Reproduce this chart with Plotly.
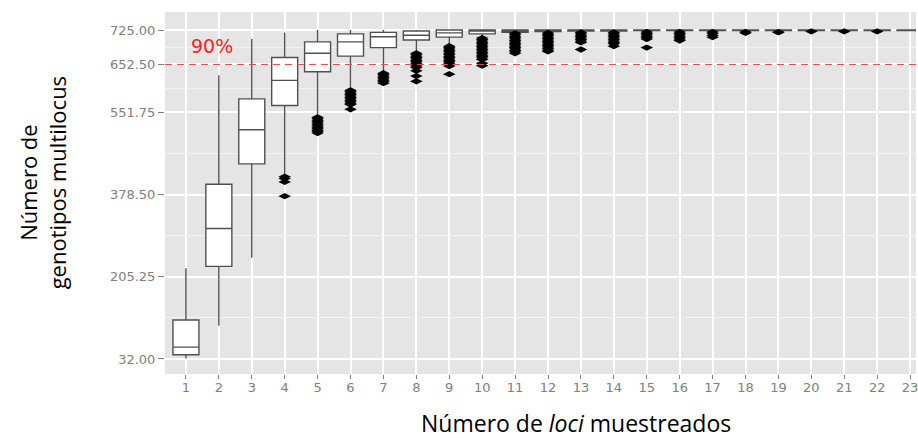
import plotly.graph_objects as go

cats = list(range(1, 24))
q1 = [41, 227, 443, 566, 637, 670, 688, 704, 710, 717, 720, 722, 723, 723, 724, 724, 724, 724, 724, 724, 724, 724, 724]
med = [57, 307, 515, 619, 676, 700, 711, 714, 719, 723, 724, 725, 725, 725, 725, 725, 725, 725, 725, 725, 725, 725, 725]
q3 = [114, 400, 580, 667, 700, 717, 720, 723, 725, 725, 725, 725, 725, 725, 725, 725, 725, 725, 725, 725, 725, 725, 725]
lo = [33, 102, 245, 422, 545, 602, 637, 678, 693, 710, 719, 721, 722, 722, 723, 723, 723, 724, 724, 724, 724, 724, 724]
hi = [223, 630, 706, 720, 725, 725, 725, 725, 725, 725, 725, 725, 725, 725, 725, 725, 725, 725, 725, 725, 725, 725, 725]

outliers = [
    [],
    [],
    [],
    [416, 412, 405, 375],
    [541, 538, 535, 532, 529, 526, 523, 520, 517, 514, 511, 508],
    [598, 595, 592, 589, 586, 583, 580, 577, 574, 571, 568, 558],
    [634, 631, 628, 625, 622, 619, 616, 613],
    [676, 673, 670, 667, 664, 661, 658, 655, 652, 649, 646, 639, 628, 617],
    [691, 688, 685, 682, 679, 676, 673, 670, 667, 664, 661, 658, 655, 649, 632],
    [708, 705, 702, 699, 696, 693, 690, 687, 684, 681, 678, 675, 672, 669, 666, 663, 655, 650],
    [718, 715, 712, 709, 706, 703, 700, 697, 694, 691, 688, 685, 682, 679, 676],
    [719, 716, 713, 710, 707, 704, 701, 698, 695, 692, 689, 686, 683, 680],
    [720, 717, 714, 711, 708, 705, 702, 699, 684],
    [720, 717, 714, 711, 708, 705, 702, 699, 696, 691],
    [721, 718, 715, 712, 709, 706, 688],
    [721, 718, 715, 712, 709, 706, 703],
    [721, 718, 714, 710],
    [721, 719],
    [721, 720],
    [722],
    [722],
    [722],
    [],
]

y_ticks = [32.0, 205.25, 378.5, 551.75, 652.5, 725.0]
y_minor = [118.625, 291.875, 465.125, 602.125, 688.75]
threshold = 652.5
threshold_label = "90%"

ox, oy = [], []
for c, vals in zip(cats, outliers):
    for v in vals:
        ox.append(c)
        oy.append(v)

W, H = 918, 438
L, T, R, B = 165, 12, 918, 374
PW, PH = R - L, B - T


def px(x):
    return (x - L) / PW


def py(y):
    return 1 - (y - T) / PH


fig = go.Figure()
fig.add_trace(go.Scatter(
    x=ox, y=oy, mode="markers",
    marker=dict(symbol="diamond-wide", size=9, color="black"),
    showlegend=False, hoverinfo="skip",
))
fig.add_trace(go.Box(
    x=cats, q1=q1, median=med, q3=q3, lowerfence=lo, upperfence=hi,
    width=0.79, fillcolor="white", line=dict(color="#505050", width=1.4),
    whiskerwidth=0, boxpoints=False, showlegend=False,
))

fig.add_shape(type="line", xref="paper", x0=0, x1=1, yref="y", y0=threshold, y1=threshold,
              line=dict(color="#EE4444", width=1, dash="7px,5px"))
fig.add_annotation(x=px(212), y=py(46.5), xref="paper", yref="paper", text=threshold_label,
                   showarrow=False, xanchor="center", yanchor="middle",
                   font=dict(family="DejaVu Sans", size=19, color="#FF2020"))

tickfont = dict(family="DejaVu Sans", size=13, color="#808080")
fig.update_layout(
    width=W, height=H,
    margin=dict(l=L, r=W - R, t=T, b=H - B),
    paper_bgcolor="white", plot_bgcolor="#E5E5E5",
    xaxis=dict(range=[0.364, 23.18], tickvals=cats, ticktext=[str(c) for c in cats],
               showgrid=True, gridcolor="white", gridwidth=1.5, zeroline=False,
               ticks="outside", ticklen=4, tickcolor="#808080", tickfont=tickfont,
               ticklabelstandoff=-3, ticklabeloverflow="allow", showline=False),
    yaxis=dict(range=[0.3, 763], tickvals=y_ticks, ticktext=[f"{v:.2f}" for v in y_ticks],
               showgrid=True, gridcolor="white", gridwidth=1.5, zeroline=False,
               ticks="outside", ticklen=6, tickcolor="#808080", tickfont=tickfont,
               minor=dict(tickvals=y_minor, showgrid=True, gridcolor="#F2F2F2", gridwidth=1, ticks=""),
               showline=False),
)

fig.add_annotation(x=px(577), y=py(423), xref="paper", yref="paper",
                   text="Número de <i>loci</i> muestreados", showarrow=False,
                   xanchor="center", yanchor="middle",
                   font=dict(family="Open Sans", size=23, color="black"))
fig.add_annotation(x=px(43), y=py(183), xref="paper", yref="paper",
                   text="Número de<br>genotipos multilocus", showarrow=False, textangle=-90,
                   xanchor="center", yanchor="middle",
                   font=dict(family="Open Sans", size=22, color="black"))

fig.write_html("out.html")
